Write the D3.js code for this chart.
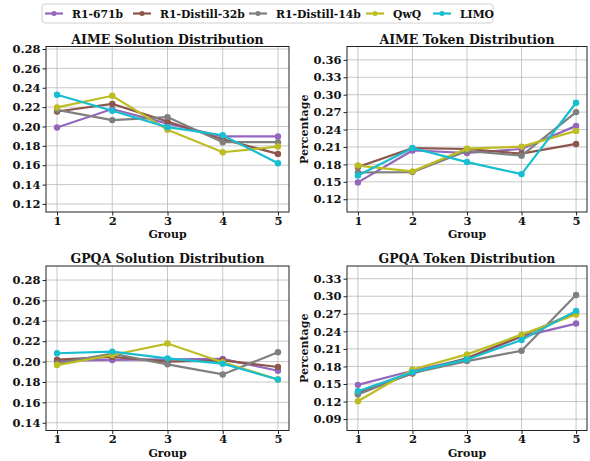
<!DOCTYPE html>
<html><head><meta charset="utf-8">
<script src="https://cdn.jsdelivr.net/npm/d3@7"></script>
<style>
body{margin:0;background:#fff;}
text{font-family:"DejaVu Serif",serif;font-weight:bold;fill:#111;}
</style></head>
<body><svg id="c" width="590" height="461"></svg>
<script>
const groups = [1,2,3,4,5];
const models = ["R1-671b","R1-Distill-32b","R1-Distill-14b","QwQ","LIMO"];
const colors = ["#9467bd","#8c564b","#7f7f7f","#bcbd22","#17becf"];

const aimeSolution = [
  [0.199, 0.218, 0.203, 0.1897, 0.1897],
  [0.2155, 0.2234, 0.2052, 0.1869, 0.1717],
  [0.2172, 0.2066, 0.2097, 0.1838, 0.1838],
  [0.2197, 0.2317, 0.1966, 0.1734, 0.1793],
  [0.2328, 0.2162, 0.1993, 0.191, 0.162]
];
const aimeToken = [
  [0.149, 0.204, 0.1996, 0.2065, 0.2463],
  [0.1755, 0.208, 0.2065, 0.1985, 0.2152],
  [0.166, 0.1667, 0.203, 0.195, 0.270],
  [0.178, 0.168, 0.2071, 0.2106, 0.2377],
  [0.161, 0.2083, 0.184, 0.1633, 0.2862]
];
const gpqaSolution = [
  [0.2009, 0.2016, 0.2022, 0.2026, 0.191],
  [0.2019, 0.2046, 0.1999, 0.2012, 0.1947],
  [0.1983, 0.2078, 0.1973, 0.1874, 0.2092],
  [0.1966, 0.2065, 0.2177, 0.1993, 0.1825],
  [0.2082, 0.2098, 0.2032, 0.198, 0.1825]
];
const gpqaToken = [
  [0.1485, 0.1726, 0.193, 0.231, 0.2533],
  [0.1348, 0.168, 0.1943, 0.2321, 0.2727],
  [0.132, 0.169, 0.1892, 0.2069, 0.302],
  [0.1205, 0.1749, 0.2006, 0.2344, 0.2687],
  [0.1376, 0.1703, 0.192, 0.2252, 0.275]
];
const ticksSolAime = [0.12,0.14,0.16,0.18,0.20,0.22,0.24,0.26,0.28];
const ticksTokAime = [0.12,0.15,0.18,0.21,0.24,0.27,0.30,0.33,0.36];
const ticksSolGpqa = [0.14,0.16,0.18,0.20,0.22,0.24,0.26,0.28];
const ticksTokGpqa = [0.09,0.12,0.15,0.18,0.21,0.24,0.27,0.30,0.33];
const titles = ["AIME Solution Distribution","AIME Token Distribution","GPQA Solution Distribution","GPQA Token Distribution"];

const panels = [
  {title:titles[0], data:aimeSolution, ticks:ticksSolAime, dom:[0.1117,0.2826], box:[46,289,46.5,212], ylab:false},
  {title:titles[1], data:aimeToken, ticks:ticksTokAime, dom:[0.098,0.383], box:[347,587,46.5,212], ylab:true},
  {title:titles[2], data:gpqaSolution, ticks:ticksSolGpqa, dom:[0.1324,0.2938], box:[46,289,266,430.5], ylab:false},
  {title:titles[3], data:gpqaToken, ticks:ticksTokGpqa, dom:[0.0705,0.3517], box:[347,587,266,430.5], ylab:true}
];

const svg = d3.select("#c");

panels.forEach(p => {
  const [x0,x1,y0,y1] = p.box;
  const x = d3.scaleLinear().domain([0.8,5.2]).range([x0,x1]);
  const y = d3.scaleLinear().domain(p.dom).range([y1,y0]);
  const g = svg.append("g");
  // grid
  g.selectAll(".gx").data(groups).join("line")
    .attr("x1",d=>x(d)).attr("x2",d=>x(d)).attr("y1",y0).attr("y2",y1)
    .attr("stroke","#b0b0b0").attr("stroke-opacity",0.7).attr("stroke-width",1);
  g.selectAll(".gy").data(p.ticks).join("line")
    .attr("x1",x0).attr("x2",x1).attr("y1",d=>y(d)).attr("y2",d=>y(d))
    .attr("stroke","#b0b0b0").attr("stroke-opacity",0.7).attr("stroke-width",1);
  // axes
  const ax = g.append("g").attr("transform",`translate(0,${y1})`)
    .call(d3.axisBottom(x).tickValues(groups).tickFormat(d3.format("d")).tickSize(3.5).tickPadding(2));
  const ay = g.append("g").attr("transform",`translate(${x0},0)`)
    .call(d3.axisLeft(y).tickValues(p.ticks).tickFormat(d3.format(".2f")).tickSize(3.5).tickPadding(2));
  [ax,ay].forEach(a=>{
    a.select(".domain").remove();
    a.selectAll("line").attr("stroke","#222");
    a.selectAll("text").attr("font-family","DejaVu Serif").attr("font-weight","bold").attr("font-size",11.5).attr("fill","#111");
  });
  ax.selectAll("text").attr("y",12.5).attr("dy",0);
  // lines
  const line = d3.line().x((d,i)=>x(groups[i])).y(d=>y(d));
  p.data.forEach((s,k)=>{
    g.append("path").attr("d",line(s)).attr("fill","none").attr("stroke",colors[k]).attr("stroke-width",2.2);
    g.selectAll(null).data(s).join("circle")
      .attr("cx",(d,i)=>x(groups[i])).attr("cy",d=>y(d)).attr("r",3.2).attr("fill",colors[k]);
  });
  // box
  g.append("rect").attr("x",x0).attr("y",y0).attr("width",x1-x0).attr("height",y1-y0)
    .attr("fill","none").attr("stroke","#222").attr("stroke-width",1);
  // title
  g.append("text").attr("x",(x0+x1)/2).attr("y",y0-3).attr("text-anchor","middle")
    .attr("font-size",12.5).text(p.title);
  g.append("text").attr("x",(x0+x1)/2).attr("y",y1+26).attr("text-anchor","middle")
    .attr("font-size",11).text("Group");
  if(p.ylab){
    g.append("text").attr("transform",`translate(${x0-39},${(y0+y1)/2}) rotate(-90)`)
      .attr("text-anchor","middle").attr("font-size",11).text("Percentage");
  }
});

// legend
const lg = svg.append("g");
lg.append("rect").attr("x",42).attr("y",4).attr("width",451).attr("height",19).attr("rx",3)
  .attr("fill","#fff").attr("stroke","#d0d0d0").attr("stroke-width",1);
const itemX = [45,133,249,366,433];
models.forEach((m,k)=>{
  const lx = itemX[k];
  lg.append("line").attr("x1",lx).attr("x2",lx+18).attr("y1",13.5).attr("y2",13.5)
    .attr("stroke",colors[k]).attr("stroke-width",2.2);
  lg.append("circle").attr("cx",lx+9).attr("cy",13.5).attr("r",2.5).attr("fill",colors[k]);
  lg.append("text").attr("x",lx+27).attr("y",17.5).attr("font-size",10.8).text(m);
});
</script></body></html>
